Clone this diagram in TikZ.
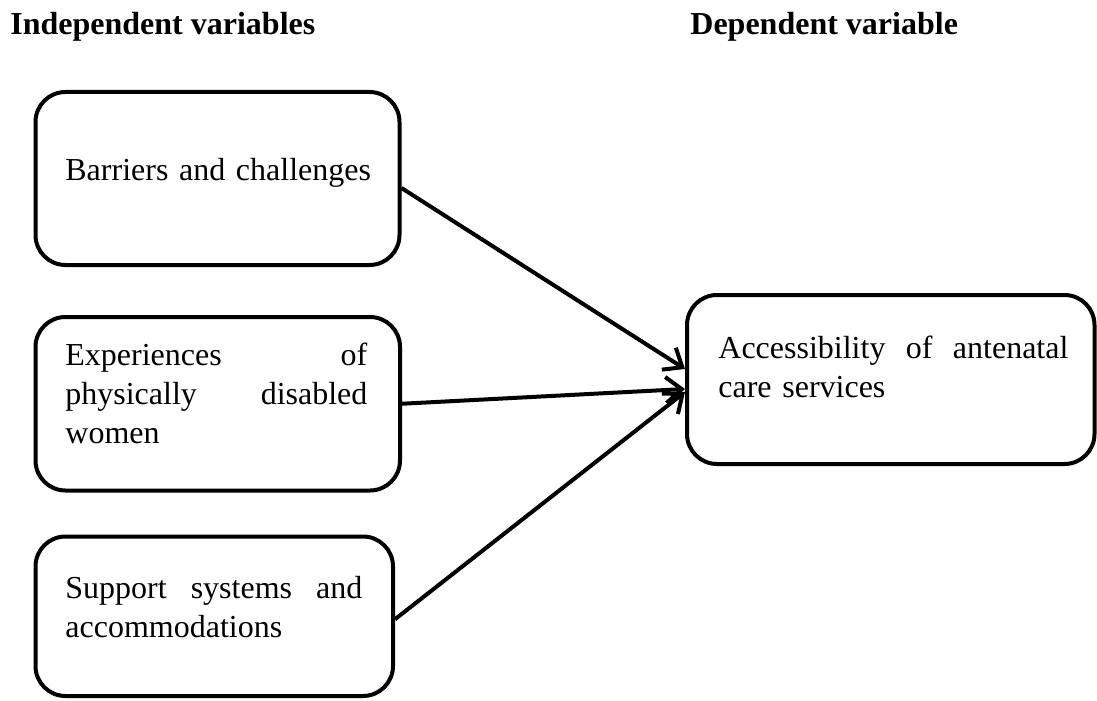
\documentclass[tikz,border=0pt]{standalone}
\usepackage{fontspec}
\setmainfont{Liberation Serif}
\usetikzlibrary{arrows.meta}
\tikzset{
  boxstyle/.style={draw=black, line width=2pt, rounded corners=15pt, inner sep=0pt},
  txtstyle/.style={inner sep=0pt, anchor=base west, align=left,
    font=\fontsize{16}{19.5}\selectfont},
  headstyle/.style={inner sep=0pt, anchor=base west,
    font=\fontsize{16}{19.5}\selectfont\bfseries},
  link/.style={line width=2pt, -{Straight Barb[length=8pt,width=13pt,line width=2pt]}}
}
\begin{document}
\begin{tikzpicture}[x=0.5pt,y=-0.5pt]
\useasboundingbox (0,0) rectangle (1097,701);
% headers
\node[headstyle] (h1) at (10,35) {Independent variables};
\node[headstyle] (h2) at (690,35) {Dependent variable};
% boxes
\node[boxstyle, minimum width=182pt, minimum height=86.5pt] (b1) at (217.5,178.5) {};
\node[boxstyle, minimum width=182.25pt, minimum height=86.75pt] (b2) at (217.75,403.75) {};
\node[boxstyle, minimum width=178.75pt, minimum height=79.75pt] (b3) at (214.25,616.25) {};
\node[boxstyle, minimum width=203.75pt, minimum height=84.5pt] (b4) at (890.75,379.5) {};
% texts
\node[txtstyle, text width=160pt] (t1) at (65,180) {Barriers and challenges};
\node[txtstyle, text width=151pt] (t2) at (65,365.5) {Experiences\hfill of\\physically\hfill disabled\\women};
\node[txtstyle, text width=148.5pt] (t3) at (65,598) {Support\hfill systems\hfill and\\accommodations};
\node[txtstyle, text width=175pt] (t4) at (718,358) {Accessibility\hfill of\hfill antenatal\\care services};
% connectors
\draw[link] ([yshift=-4.75pt]b1.east) -- ([yshift=5.25pt]b4.west);
\draw[link] ([yshift=0pt]b2.east) -- ([yshift=-4.75pt]b4.west);
\draw[link] ([yshift=-1.5pt]b3.east) -- ([yshift=-6.25pt]b4.west);
\end{tikzpicture}
\end{document}
